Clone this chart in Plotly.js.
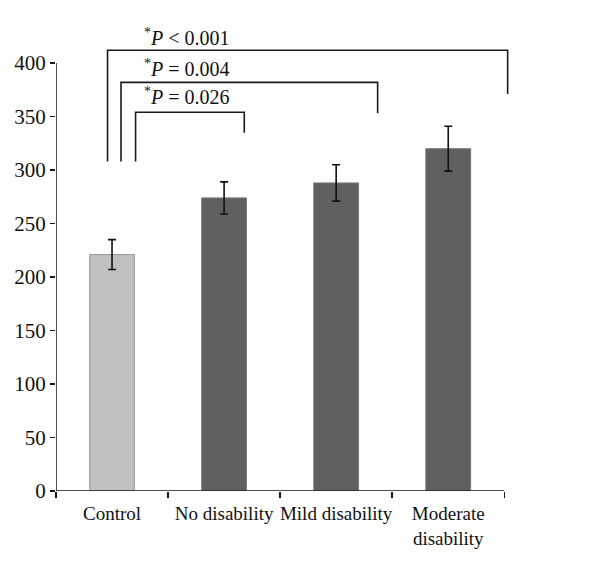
<!DOCTYPE html>
<html>
<head>
<meta charset="utf-8">
<script src="https://cdn.plot.ly/plotly-3.0.1.min.js"></script>
<style>html,body{margin:0;padding:0;background:#fff}#chart{width:600px;height:572px}</style>
</head>
<body>
<div id="chart"></div>
<script>
// Data
var categories = ['Control', 'No disability', 'Mild disability', 'Moderate<br>disability'];
var means = [221, 274, 288, 320];
var errors = [14, 15, 17, 21];
var barColors = ['#c0c0c0', '#606060', '#606060', '#606060'];
var barLines = ['#999999', '#7a7a7a', '#7a7a7a', '#7a7a7a'];
var yTicks = [0, 50, 100, 150, 200, 250, 300, 350, 400];

// Significance brackets (inner to outer): Control vs No / Mild / Moderate
var pLabels = ['<sup>*</sup><i>P</i> = 0.026', '<sup>*</sup><i>P</i> = 0.004', '<sup>*</sup><i>P</i> &lt; 0.001'];
var bracketTop = [354, 382, 412];
var bracketLeftBottom = [308, 308, 308];
var bracketRightBottom = [335, 353, 371];
var bracketLeftX = [0.21, 0.08, -0.04];
var bracketRightX = [1.18, 2.37, 3.53];
var labelY = [369, 395, 424];

var serif = 'Liberation Serif, serif';
var lineColor = '#1a1a1a';
var shapes = [
  {type: 'line', xref: 'x', yref: 'y', x0: -0.5, x1: -0.5, y0: 0, y1: 400, line: {color: lineColor, width: 1.5}},
  {type: 'line', xref: 'x', yref: 'y', x0: -0.5, x1: 3.5, y0: 0, y1: 0, line: {color: lineColor, width: 1.5}}
];
var annotations = [];
for (var i = 0; i < pLabels.length; i++) {
  shapes.push({
    type: 'path', xref: 'x', yref: 'y',
    path: 'M ' + bracketLeftX[i] + ',' + bracketLeftBottom[i] +
          ' L ' + bracketLeftX[i] + ',' + bracketTop[i] +
          ' L ' + bracketRightX[i] + ',' + bracketTop[i] +
          ' L ' + bracketRightX[i] + ',' + bracketRightBottom[i],
    line: {color: lineColor, width: 1.6}
  });
  annotations.push({
    x: 0.27, y: labelY[i], xref: 'x', yref: 'y', xanchor: 'left', yanchor: 'middle',
    text: pLabels[i], showarrow: false,
    font: {family: serif, size: 20, color: '#111'}
  });
}

var trace = {
  type: 'bar',
  x: categories,
  y: means,
  width: 0.4,
  marker: {color: barColors, line: {color: barLines, width: 1}},
  error_y: {type: 'data', array: errors, visible: true, color: '#111', thickness: 1.6, width: 4}
};

var layout = {
  width: 600, height: 572,
  margin: {l: 56, r: 89, t: 31, b: 81},
  paper_bgcolor: '#fff', plot_bgcolor: '#fff',
  showlegend: false,
  font: {family: serif, size: 19, color: '#111'},
  xaxis: {
    type: 'category', range: [-0.5, 3.56], showline: false, showgrid: false, zeroline: false,
    ticks: 'outside', tickson: 'boundaries', ticklen: 6, tickwidth: 1.5, tickcolor: lineColor,
    tickangle: 0, automargin: false, ticklabelstandoff: 9,
    tickfont: {family: serif, size: 19, color: '#111'}
  },
  yaxis: {
    range: [0, 430], showline: false, showgrid: false, zeroline: false,
    tickvals: yTicks, ticktext: yTicks.map(String),
    ticks: 'outside', ticklen: 5, tickwidth: 1.5, tickcolor: lineColor,
    automargin: false,
    tickfont: {family: serif, size: 21, color: '#111'}
  },
  shapes: shapes,
  annotations: annotations
};

Plotly.newPlot('chart', [trace], layout, {staticPlot: true, displayModeBar: false});
</script>
</body>
</html>
